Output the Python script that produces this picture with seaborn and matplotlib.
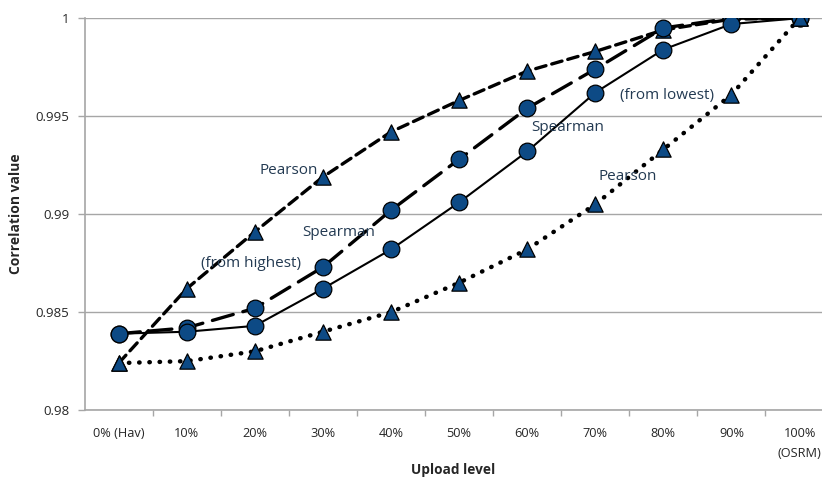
import matplotlib
matplotlib.use("Agg")
import matplotlib.pyplot as plt
import seaborn as sns
import pandas as pd
import numpy as np

sns.set_theme(style="white")
plt.rcParams["font.family"] = ["Open Sans", "DejaVu Sans"]

# Upload levels (categories) and correlation values per method
levels = ["0% (Hav)", "10%", "20%", "30%", "40%", "50%", "60%", "70%", "80%", "90%", "100%\n(OSRM)"]
pearson_from_highest = [0.9824, 0.9862, 0.9891, 0.9919, 0.9942, 0.9958, 0.9973, 0.9983, 0.9994, 0.99995, 1.0]
spearman_from_highest = [0.9839, 0.9842, 0.9852, 0.9873, 0.9902, 0.9928, 0.9954, 0.9974, 0.9995, 1.0, 1.0]
spearman_from_lowest = [0.9839, 0.9840, 0.9843, 0.9862, 0.9882, 0.9906, 0.9932, 0.9962, 0.9984, 0.9997, 1.0]
pearson_from_lowest = [0.9824, 0.9825, 0.9830, 0.9840, 0.9850, 0.9865, 0.9882, 0.9905, 0.9933, 0.9961, 1.0]

pos = np.arange(len(levels))
fill = "#0d4a85"
text_col = "#233a52"

fig = plt.figure(figsize=(8.22, 4.78), dpi=100)
ax = fig.add_axes([0.103, 0.142, 0.897, 0.820])

series = [
    (pearson_from_highest, "^", (0, (3.2, 1.8)), 2.4, 11),
    (spearman_from_highest, "o", (0, (6.5, 3.0)), 2.4, 12),
    (spearman_from_lowest, "o", "-", 1.5, 12),
    (pearson_from_lowest, "^", (0, (0.1, 2.2)), 3.2, 11),
]

for vals, mk, ls, lw, ms in series:
    df = pd.DataFrame({"level": pos, "corr": vals})
    sns.lineplot(data=df, x="level", y="corr", ax=ax, color="black",
                 linewidth=lw, linestyle=ls, zorder=2)
    ax.lines[-1].set_dash_capstyle("round")
for vals, mk, ls, lw, ms in series:
    df = pd.DataFrame({"level": pos, "corr": vals})
    sns.scatterplot(data=df, x="level", y="corr", ax=ax, marker=mk,
                    s=ms ** 2, color=fill, edgecolor="black", linewidth=0.9,
                    zorder=3)

# Annotations naming each curve
labels = [
    ("Pearson", 2.49, 0.99224),
    ("(from highest)", 1.94, 0.98750),
    ("Spearman", 3.23, 0.98908),
    ("Spearman", 6.60, 0.99444),
    ("(from lowest)", 8.05, 0.99607),
    ("Pearson", 7.48, 0.99194),
]
for txt, x, y in labels:
    ax.text(x, y, txt, ha="center", va="center", fontsize=11, color=text_col,
            zorder=4)

ax.set_xlim(-0.5, 10.33)
ax.set_ylim(0.98, 1.0)
ax.set_yticks([0.98, 0.985, 0.99, 0.995, 1.0])
ax.set_yticklabels(["0.98", "0.985", "0.99", "0.995", "1"])
ax.yaxis.grid(True, color="#a6a6a6", linewidth=1.0)
ax.xaxis.grid(False)
ax.set_axisbelow(True)

ax.set_xticks(pos)
ax.set_xticklabels(levels, linespacing=1.7)
ax.set_xticks(np.arange(0.5, 10.5, 1.0), minor=True)
ax.tick_params(axis="x", which="major", length=0, pad=12, labelsize=9.2,
               labelcolor="#262626")
ax.tick_params(axis="x", which="minor", length=4, width=1, color="#a6a6a6",
               direction="out", bottom=True)
ax.tick_params(axis="y", which="major", length=5, width=1, color="#a6a6a6",
               direction="out", left=True, labelsize=9.5, labelcolor="#262626",
               pad=6)

for side in ["top", "right"]:
    ax.spines[side].set_visible(False)
for side in ["left", "bottom"]:
    ax.spines[side].set_color("#a6a6a6")
    ax.spines[side].set_linewidth(1.2)

ax.set_xlabel("Upload level", fontsize=9.8, fontweight="bold", color="#262626")
ax.xaxis.set_label_coords(0.5, -0.135)
ax.set_ylabel("Correlation value", fontsize=10, fontweight="bold",
              color="#262626", labelpad=9)

fig.savefig("out.png", dpi=100)
